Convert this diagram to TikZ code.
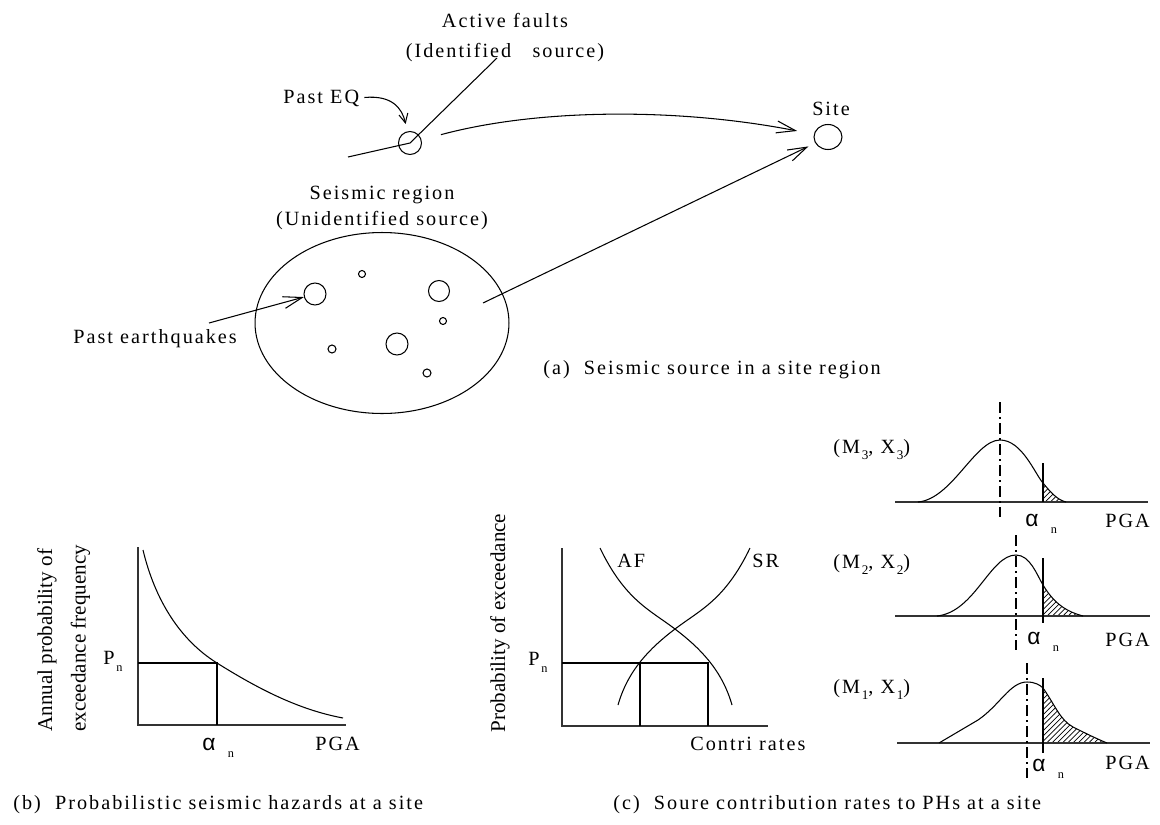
\documentclass[tikz,border=0pt]{standalone}
\usepackage{fontspec}
\setmainfont{Liberation Serif}[LetterSpace=10]
\newfontfamily\axisfont{Liberation Serif}
\newfontfamily\greekfont{Liberation Sans}
\usepackage{tikz}
\usetikzlibrary{arrows.meta,shapes.geometric,patterns,calc}
\newcommand{\alphan}{{\greekfont\fontsize{13}{13}\selectfont α}\hspace{7pt}\raisebox{-0.8ex}{\fontsize{7}{8}\selectfont n}}
\newcommand{\probn}{P\hspace{1pt}\raisebox{-0.8ex}{\fontsize{7}{8}\selectfont n}}
\newcommand{\subidx}[1]{\hspace{1pt}\raisebox{-0.7ex}{\fontsize{7.5}{8}\selectfont #1}}

\begin{document}
\begin{tikzpicture}[x=0.02cm, y=-0.02cm,
      every node/.append style={font=\fontsize{11.5}{14}\selectfont},
      txt/.style={inner sep=0pt, anchor=base west},
      quake/.style={draw, circle, inner sep=0pt, line width=0.6pt},
      arr/.style={-{Straight Barb[length=3.8mm,width=2.4mm]}, line width=0.6pt},
      smallarr/.style={-{Straight Barb[length=1.8mm,width=1.8mm]}, line width=0.6pt},
      axisline/.style={line width=0.9pt, draw=black!80},
      plotline/.style={line width=0.6pt},
      centreline/.style={line width=0.6pt, dash pattern=on 6pt off 2.5pt on 1pt off 2.5pt},
      ylab/.style={font=\axisfont\fontsize{12}{19}\selectfont, rotate=90,
        anchor=north west, align=left, inner sep=0pt},
      hatch/.style={pattern=north east lines},
    ]
    \useasboundingbox (0,0) rectangle (1160,825);

    % (a) Seismic source in a site region
    \node[inner sep=0pt, anchor=north, align=center, font=\fontsize{11.5}{17}\selectfont]
      (faults) at (505,13) {Active faults\\(Identified~~~source)};
    \node[quake, minimum width=4.6mm, minimum height=4.4mm] (pasteq) at (410,143) {};
    \node[txt] (eqlabel) at (283,103) {Past EQ};
    \node[draw, ellipse, minimum width=5.6mm, minimum height=5mm, inner sep=0pt,
      line width=0.6pt] (site) at (828,137) {};
    \node[txt, anchor=base] (sitelabel) at (831,115) {Site};
    \coordinate (faultw) at (348,157);
    \coordinate (faultlabel) at (497,58);
    \draw[plotline] (faultw) -- (pasteq.center) -- (faultlabel);
    \draw[smallarr, shorten <=1mm, shorten >=1.5mm] (eqlabel.east)
      .. controls (392,95) and (402,108) .. (pasteq);
    \draw[arr, shorten <=4mm, shorten >=3.4mm] (pasteq)
      .. controls (540,108) and (680,108) .. (site);

    % seismic region
    \node[inner sep=0pt, anchor=north, align=center, font=\fontsize{11.5}{14.5}\selectfont]
      (srlabel) at (382,186) {Seismic region\\(Unidentified source)};
    \node[draw, ellipse, minimum width=5.08cm, minimum height=3.62cm,
      line width=0.6pt] (region) at (382,323) {};
    \foreach \px/\py/\sz [count=\i] in {362/274/1.4mm, 315/294/4.4mm, 439/291/4.2mm,
        443/321/1.4mm, 332/349/1.6mm, 397/344/4.4mm, 427/373/1.6mm}
      \node[quake, minimum size=\sz] (q\i) at (\px,\py) {};
    \node[txt] (pastlabel) at (73,343) {Past earthquakes};
    \coordinate (pastarrow) at (209,323);
    \draw[arr] (pastarrow) -- (q2);
    \coordinate (regionexit) at (483,303);
    \draw[arr, shorten >=1.5mm] (regionexit) -- (site);
    \node[txt] (capa) at (543,374) {(a)~~Seismic source in a site region};

    % (b) hazard curve
    \draw[axisline] (138,547) -- (138,725) -- (346,725);
    \draw[plotline] (143,550) .. controls (155,600) and (180,640) .. (217,663)
      .. controls (260,690) and (300,710) .. (343,718);
    \draw[plotline] (138,663) -- (217,663) -- (217,725);
    \node[txt] (pnb) at (103,664) {\probn};
    \node[txt] (anb) at (202,750) {\alphan};
    \node[txt] (pgab) at (315,750) {PGA};
    \node[ylab] (ylabb) at (37,732) {Annual probability of\\exceedance frequency};
    \node[txt] (capb) at (13,809) {(b)~~Probabilistic seismic hazards at a site};

    % (c) contribution rates
    \draw[axisline] (562,548) -- (562,726) -- (768,726);
    \draw[plotline] (600,548) .. controls (625,600) and (650,610) .. (675,629)
      .. controls (700,648) and (722,670) .. (732,705);
    \draw[plotline] (750,548) .. controls (725,600) and (700,610) .. (675,629)
      .. controls (650,648) and (628,670) .. (618,705);
    \draw[plotline] (562,663) -- (708,663) -- (708,726);
    \draw[plotline] (640,663) -- (640,726);
    \node[txt] (af) at (617,567) {AF};
    \node[txt] (sr) at (752,567) {SR};
    \node[txt] (pnc) at (528,665) {\probn};
    \node[txt] (rates) at (690,750) {Contri rates};
    \node[ylab] (ylabc) at (490,733) {Probability of exceedance};
    \node[txt] (capc) at (613,809) {(c)~~Soure contribution rates to PHs at a site};

    % (M3, X3)
    \fill[hatch] (1043,502) -- (1043,483) .. controls (1052,494) and (1058,500) .. (1066,502) -- cycle;
    \draw[axisline] (895,502) -- (1148,502);
    \draw[plotline] (918,502) .. controls (952,499) and (975,440) .. (1000,440)
      .. controls (1022,440) and (1035,474) .. (1043,483)
      .. controls (1052,494) and (1058,500) .. (1066,502);
    \draw[plotline] (1043,463) -- (1043,502);
    \draw[centreline] (1000,402) -- (1000,517);
    \node[txt] (m3) at (833,453) {(M\subidx{3}, X\subidx{3})};
    \node[txt] (an3) at (1025,526) {\alphan};
    \node[txt] (pga3) at (1105,527) {PGA};

    % (M2, X2)
    \fill[hatch] (1043,616) -- (1043,585) .. controls (1055,605) and (1068,612) .. (1083,616) -- cycle;
    \draw[axisline] (895,616) -- (1150,616);
    \draw[plotline] (937,616) .. controls (975,612) and (990,555) .. (1016,555)
      .. controls (1030,555) and (1037,575) .. (1043,585)
      .. controls (1055,605) and (1068,612) .. (1083,616);
    \draw[plotline] (1043,558) -- (1043,623);
    \draw[centreline] (1016,535) -- (1016,650);
    \node[txt] (m2) at (833,568) {(M\subidx{2}, X\subidx{2})};
    \node[txt] (an2) at (1027,644) {\alphan};
    \node[txt] (pga2) at (1105,646) {PGA};

    % (M1, X1)
    \fill[hatch] (1043,743) -- (1043,688) .. controls (1055,705) and (1060,720) .. (1073,727)
      .. controls (1085,733) and (1095,738) .. (1107,743) -- cycle;
    \draw[axisline] (897,743) -- (1150,743);
    \draw[plotline] (939,743) -- (978,720) .. controls (1000,705) and (1010,682) .. (1027,682)
      .. controls (1035,682) and (1040,685) .. (1043,688)
      .. controls (1055,705) and (1060,720) .. (1073,727)
      .. controls (1085,733) and (1095,738) .. (1107,743);
    \draw[plotline] (1043,678) -- (1043,753);
    \draw[centreline] (1027,663) -- (1027,778);
    \node[txt] (m1) at (833,693) {(M\subidx{1}, X\subidx{1})};
    \node[txt] (an1) at (1032,771) {\alphan};
    \node[txt] (pga1) at (1105,769) {PGA};
  \end{tikzpicture}
\end{document}
